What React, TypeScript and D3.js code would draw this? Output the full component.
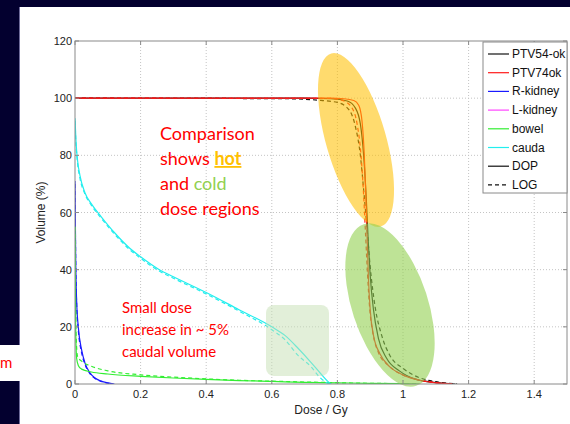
import * as d3 from "d3";

const W = 570;
const H = 424;

const xTicks = [0, 0.2, 0.4, 0.6, 0.8, 1, 1.2, 1.4];
const yTicks = [0, 20, 40, 60, 80, 100, 120];

const legendLabels = ["PTV54-ok", "PTV74ok", "R-kidney", "L-kidney", "bowel", "cauda", "DOP", "LOG"];
const legendColors = ["#111111", "#ff1a1a", "#1a1aff", "#ff44ff", "#33ee33", "#22eeee", "#111111", "#111111"];

// DVH points: [dose (Gy), volume (%)]
const rKidneyDop: [number, number][] = [[0, 71], [0.002, 45], [0.005, 29], [0.01, 20], [0.02, 12], [0.03, 7.5], [0.045, 4], [0.06, 2.2], [0.08, 1], [0.1, 0.4], [0.12, 0]];
const rKidneyLog: [number, number][] = [[0, 70], [0.002, 44], [0.005, 28], [0.01, 19], [0.02, 11], [0.03, 7], [0.045, 3.7], [0.06, 2], [0.08, 0.9], [0.1, 0.3], [0.115, 0]];
const bowelDop: [number, number][] = [[0, 55], [0.002, 20], [0.005, 9], [0.01, 6.5], [0.02, 5.2], [0.05, 4.2], [0.1, 3.5], [0.2, 2.7], [0.3, 2.1], [0.4, 1.6], [0.5, 1.2], [0.6, 0.9], [0.7, 0.6], [0.8, 0.4], [0.9, 0.25], [1.0, 0.1], [1.05, 0]];
const bowelLog: [number, number][] = [[0, 55], [0.003, 18], [0.008, 9.5], [0.02, 8], [0.05, 6.2], [0.1, 4.6], [0.2, 3.2], [0.3, 2.4], [0.4, 1.8], [0.5, 1.3], [0.6, 1.0], [0.7, 0.7], [0.8, 0.45], [0.9, 0.25], [1.0, 0.1], [1.05, 0]];
const caudaDop: [number, number][] = [[0, 93], [0.003, 85], [0.008, 78], [0.015, 73], [0.03, 67], [0.05, 63], [0.08, 58.5], [0.12, 53], [0.167, 47.5], [0.2, 44.5], [0.257, 40], [0.3, 37.5], [0.4, 32], [0.5, 26], [0.6, 20], [0.64, 17], [0.68, 12.5], [0.72, 7.5], [0.75, 3.5], [0.77, 1], [0.78, 0]];
const caudaLog: [number, number][] = [[0, 92], [0.003, 84], [0.008, 77], [0.015, 72], [0.03, 66.5], [0.05, 62.5], [0.08, 58], [0.12, 52.5], [0.167, 47], [0.2, 44], [0.257, 39.5], [0.3, 37], [0.4, 31.5], [0.5, 25.5], [0.6, 19], [0.64, 15.5], [0.68, 10], [0.72, 6], [0.745, 2.5], [0.765, 0.6], [0.775, 0]];
const ptv54Dop: [number, number][] = [[0, 100], [0.7, 100], [0.78, 99.8], [0.83, 99], [0.855, 96.5], [0.87, 91], [0.88, 80], [0.888, 65], [0.894, 50], [0.9, 38], [0.91, 26], [0.925, 16], [0.95, 9], [0.99, 4.5], [1.04, 1.6], [1.1, 0.5], [1.16, 0]];
const ptv54Log: [number, number][] = [[0, 100], [0.65, 99.8], [0.75, 99.2], [0.8, 98.5], [0.835, 96], [0.855, 90], [0.87, 80], [0.88, 68], [0.89, 55], [0.9, 41], [0.915, 27], [0.935, 17], [0.96, 10], [1.0, 5.5], [1.05, 2.2], [1.1, 0.8], [1.165, 0]];
const ptv74Dop: [number, number][] = [[0, 100], [0.78, 100], [0.82, 99.8], [0.85, 99.2], [0.865, 97.5], [0.875, 92], [0.882, 80], [0.887, 65], [0.891, 50], [0.895, 36], [0.9, 26], [0.91, 17], [0.93, 10.5], [0.96, 6], [1.0, 3.2], [1.05, 1.3], [1.1, 0.4], [1.15, 0]];
const ptv74Log: [number, number][] = [[0, 100], [0.78, 99.9], [0.82, 99], [0.845, 96.5], [0.86, 91], [0.872, 80], [0.88, 66], [0.886, 52], [0.892, 38], [0.898, 27], [0.908, 18], [0.925, 11], [0.955, 6.5], [0.995, 3.4], [1.05, 1.4], [1.1, 0.5], [1.15, 0]];

const curves = [
  { pts: rKidneyDop, color: legendColors[2], dash: "" },
  { pts: rKidneyLog, color: legendColors[2], dash: "4,3" },
  { pts: bowelLog, color: legendColors[4], dash: "4,3" },
  { pts: bowelDop, color: legendColors[4], dash: "" },
  { pts: caudaLog, color: legendColors[5], dash: "4,3" },
  { pts: caudaDop, color: legendColors[5], dash: "" },
  { pts: ptv54Log, color: legendColors[0], dash: "4,3" },
  { pts: ptv54Dop, color: legendColors[0], dash: "" },
  { pts: ptv74Log, color: legendColors[1], dash: "4,3" },
  { pts: ptv74Dop, color: legendColors[1], dash: "" },
];

const NAVY = "#03002f";
const axisFont = "'Liberation Sans', Arial, sans-serif";
const noteFont = "Lato, 'Open Sans', sans-serif";

export default function App() {
  const x = d3.scaleLinear().domain([0, 1.5]).range([75, 567]);
  const y = d3.scaleLinear().domain([0, 120]).range([384, 41]);
  const line = d3
    .line<[number, number]>()
    .x((d) => x(d[0]))
    .y((d) => y(d[1]))
    .curve(d3.curveMonotoneX);

  const [x0, x1] = x.range();
  const [yb, yt] = y.range();

  return (
    <svg width={W} height={H} style={{ position: "absolute", left: 0, top: 0, background: "#fff" }}>
      <defs>
        <clipPath id="plot">
          <rect x={x0} y={yt} width={x1 - x0} height={yb - yt} />
        </clipPath>
      </defs>
      <rect x={0} y={0} width={W} height={H} fill="#fff" />

      {/* grid */}
      {xTicks.slice(1).map((t) => (
        <line key={"gx" + t} x1={x(t)} x2={x(t)} y1={yt} y2={yb} stroke="#c4c4c4" strokeDasharray="1,2" />
      ))}
      {yTicks.slice(1, -1).map((t) => (
        <line key={"gy" + t} x1={x0} x2={x1} y1={y(t)} y2={y(t)} stroke="#c4c4c4" strokeDasharray="1,2" />
      ))}

      {/* curves */}
      <g clipPath="url(#plot)">
        {curves.map((c, i) => (
          <path key={i} d={line(c.pts) || ""} fill="none" stroke={c.color} strokeWidth={1.2} strokeDasharray={c.dash || undefined} />
        ))}
      </g>

      {/* highlight shapes */}
      <ellipse cx={356} cy={140} rx={30} ry={90} transform="rotate(-16 356 140)" fill="#ffc000" fillOpacity={0.57} />
      <ellipse cx={390} cy={305} rx={38} ry={85} transform="rotate(-18 390 305)" fill="#92d050" fillOpacity={0.6} />
      <rect x={266} y={305} width={63} height={71} rx={8} fill="#c5e0b4" fillOpacity={0.5} />

      {/* axes box and ticks */}
      <rect x={x0} y={yt} width={x1 - x0} height={yb - yt} fill="none" stroke="#8a8a8a" />
      {xTicks.map((t) => (
        <g key={"tx" + t}>
          <line x1={x(t)} x2={x(t)} y1={yb} y2={yb - 4} stroke="#8a8a8a" />
          <line x1={x(t)} x2={x(t)} y1={yt} y2={yt + 4} stroke="#8a8a8a" />
          <text x={x(t)} y={yb + 14} textAnchor="middle" fontFamily={axisFont} fontSize={11} fill="#222">
            {d3.format("~g")(t)}
          </text>
        </g>
      ))}
      {yTicks.map((t) => (
        <g key={"ty" + t}>
          <line x1={x0} x2={x0 + 4} y1={y(t)} y2={y(t)} stroke="#8a8a8a" />
          <line x1={x1} x2={x1 - 4} y1={y(t)} y2={y(t)} stroke="#8a8a8a" />
          <text x={x0 - 3} y={y(t) + 4} textAnchor="end" fontFamily={axisFont} fontSize={11} fill="#222">
            {t}
          </text>
        </g>
      ))}
      <text x={(x0 + 567) / 2} y={414} textAnchor="middle" fontFamily={axisFont} fontSize={12} fill="#222">
        Dose / Gy
      </text>
      <text transform={`translate(45,${(yt + yb) / 2}) rotate(-90)`} textAnchor="middle" fontFamily={axisFont} fontSize={12} fill="#222">
        Volume (%)
      </text>

      {/* legend */}
      <rect x={483} y={42} width={84} height={151} fill="#fff" stroke="#8a8a8a" />
      {legendLabels.map((lab, i) => {
        const ly = 54 + i * 18.7;
        return (
          <g key={lab}>
            <line x1={488} x2={509} y1={ly} y2={ly} stroke={legendColors[i]} strokeWidth={1.2} strokeDasharray={i === 7 ? "4,3" : undefined} />
            <text x={512} y={ly + 4} fontFamily={axisFont} fontSize={12} fill="#111">
              {lab}
            </text>
          </g>
        );
      })}

      {/* annotations */}
      <text fontFamily={noteFont} fontSize={18} fill="#ff0000">
        <tspan x={160} y={140}>Comparison</tspan>
        <tspan x={160} y={165}>shows </tspan>
        <tspan fill="#ffc000" fontWeight="bold" textDecoration="underline">hot</tspan>
        <tspan x={160} y={190}>and </tspan>
        <tspan fill="#92d050">cold</tspan>
        <tspan x={160} y={215}>dose regions</tspan>
      </text>
      <text fontFamily={noteFont} fontSize={15} fill="#ff0000">
        <tspan x={122} y={313}>Small dose</tspan>
        <tspan x={122} y={335}>increase in ~ 5%</tspan>
        <tspan x={122} y={357}>caudal volume</tspan>
      </text>

      {/* slide frame */}
      <text x={0} y={368} fontFamily={noteFont} fontSize={15} fill="#ff0000">m</text>
      <rect x={0} y={0} width={W} height={7} fill={NAVY} />
      <rect x={0} y={0} width={19} height={345} fill={NAVY} />
      <rect x={0} y={381} width={19} height={H - 381} fill={NAVY} />
      <line x1={19.5} x2={19.5} y1={7} y2={345} stroke="#6e6a9a" />
      <line x1={19.5} x2={19.5} y1={381} y2={H} stroke="#6e6a9a" />
    </svg>
  );
}
